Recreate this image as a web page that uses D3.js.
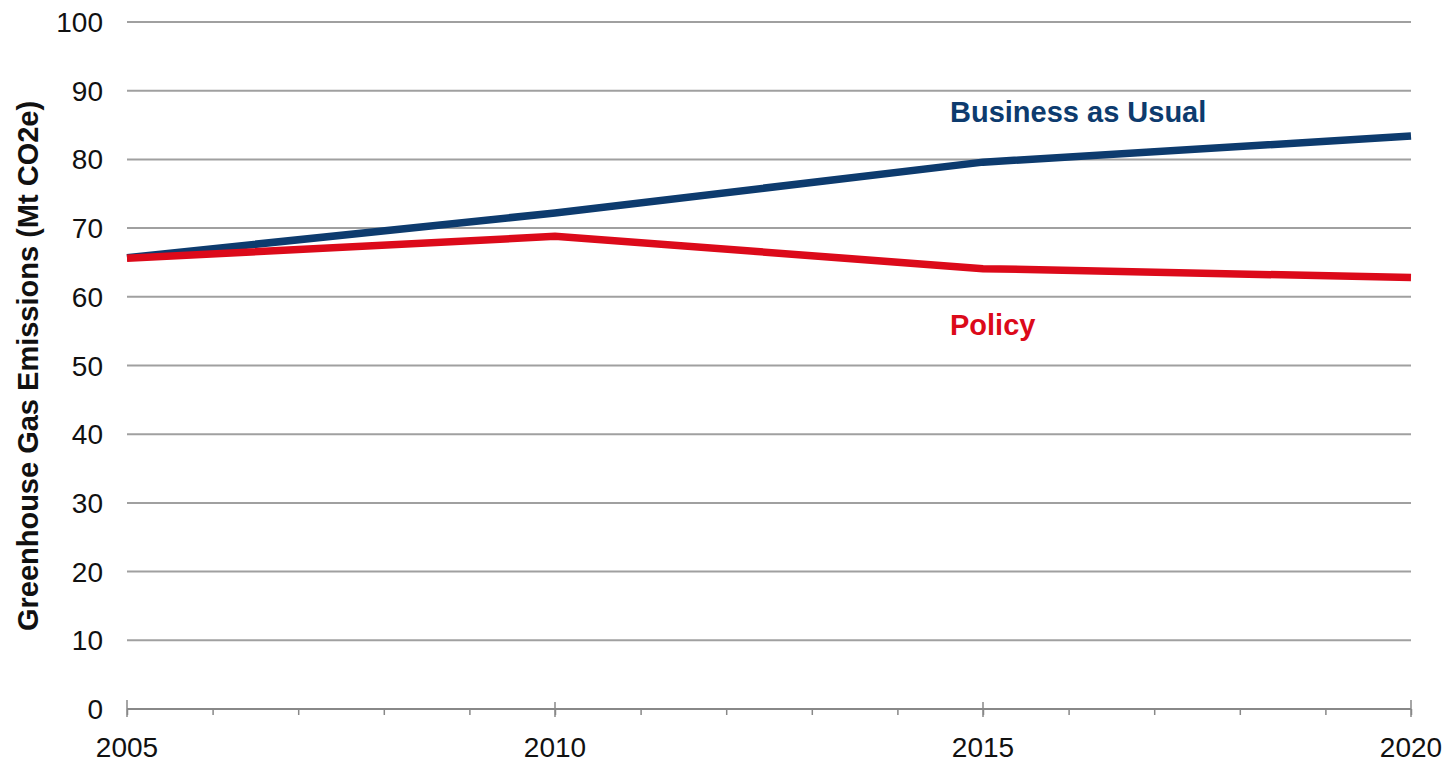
<!DOCTYPE html>
<html>
<head>
<meta charset="utf-8">
<script src="https://cdn.jsdelivr.net/npm/d3@7"></script>
<style>
  body { margin: 0; background: #fff; }
  svg text { font-family: "Liberation Sans", Arial, sans-serif; }
</style>
</head>
<body>
<svg class="ghg-frame"></svg>
<script>
const years = [2005, 2010, 2015, 2020];
const businessAsUsual = [65.7, 72.2, 79.6, 83.4];
const policy = [65.6, 68.8, 64.1, 62.8];
const yTicks = [0, 10, 20, 30, 40, 50, 60, 70, 80, 90, 100];
const xTicks = [2005, 2010, 2015, 2020];

const margin = {top: 22, right: 40, bottom: 56, left: 127}
  , width = 1451
  , height = 765;

const svg = d3.select(".ghg-frame")
  .attr("width", width)
  .attr("height", height);

const xScale = d3.scaleLinear()
  .domain([2005, 2020])
  .range([margin.left, 1411]);

const yScale = d3.scaleLinear()
  .domain([0, 100])
  .range([709, margin.top]);

// gridlines
svg.append("g")
  .selectAll("line")
  .data(yTicks.filter(d => d > 0))
  .enter().append("line")
  .attr("x1", xScale(2005))
  .attr("x2", xScale(2020))
  .attr("y1", d => yScale(d))
  .attr("y2", d => yScale(d))
  .attr("stroke", "#a0a0a0")
  .attr("stroke-width", 2);

// y labels
svg.append("g")
  .selectAll("text")
  .data(yTicks)
  .enter().append("text")
  .attr("x", 103)
  .attr("y", d => yScale(d))
  .attr("dy", "0.36em")
  .attr("text-anchor", "end")
  .attr("font-size", "28px")
  .attr("fill", "#111")
  .text(d => d);

// x axis with yearly minor ticks
const xAxis = d3.axisBottom(xScale)
  .tickValues(d3.range(2005, 2021))
  .tickSize(6)
  .tickFormat("");

const axisG = svg.append("g")
  .attr("transform", "translate(0," + yScale(0) + ")")
  .call(xAxis);
axisG.select(".domain").attr("stroke", "#888").attr("stroke-width", 2).attr("d", "M" + xScale(2005) + ",0H" + xScale(2020));
axisG.selectAll(".tick line").attr("stroke", "#888").attr("stroke-width", 1.5);

// major ticks at labelled years
svg.append("g")
  .selectAll("line")
  .data(xTicks)
  .enter().append("line")
  .attr("x1", d => xScale(d))
  .attr("x2", d => xScale(d))
  .attr("y1", d => yScale(0) - (d === 2005 || d === 2020 ? 9 : 7))
  .attr("y2", yScale(0) + 8)
  .attr("stroke", "#888")
  .attr("stroke-width", 1.5);

svg.append("g")
  .selectAll("text")
  .data(xTicks)
  .enter().append("text")
  .attr("x", d => xScale(d))
  .attr("y", 757)
  .attr("text-anchor", "middle")
  .attr("font-size", "28px")
  .attr("fill", "#111")
  .text(d => d);

// y axis title
svg.append("text")
  .attr("transform", "translate(38,366) rotate(-90)")
  .attr("text-anchor", "middle")
  .attr("font-size", "29px")
  .attr("font-weight", "bold")
  .attr("fill", "#111")
  .text("Greenhouse Gas Emissions (Mt CO2e)");

const line = d3.line()
  .x((d, i) => xScale(years[i]))
  .y(d => yScale(d));

svg.append("path")
  .datum(businessAsUsual)
  .attr("fill", "none")
  .attr("stroke", "#0d3b6e")
  .attr("stroke-width", 7.5)
  .attr("d", line);

svg.append("path")
  .datum(policy)
  .attr("fill", "none")
  .attr("stroke", "#dc0a1a")
  .attr("stroke-width", 7.5)
  .attr("d", line);

svg.append("text")
  .attr("x", 950)
  .attr("y", 122)
  .attr("font-size", "29px")
  .attr("font-weight", "bold")
  .attr("fill", "#0d3b6e")
  .text("Business as Usual");

svg.append("text")
  .attr("x", 950)
  .attr("y", 335)
  .attr("font-size", "29px")
  .attr("font-weight", "bold")
  .attr("fill", "#dc0a1a")
  .text("Policy");
</script>
</body>
</html>
